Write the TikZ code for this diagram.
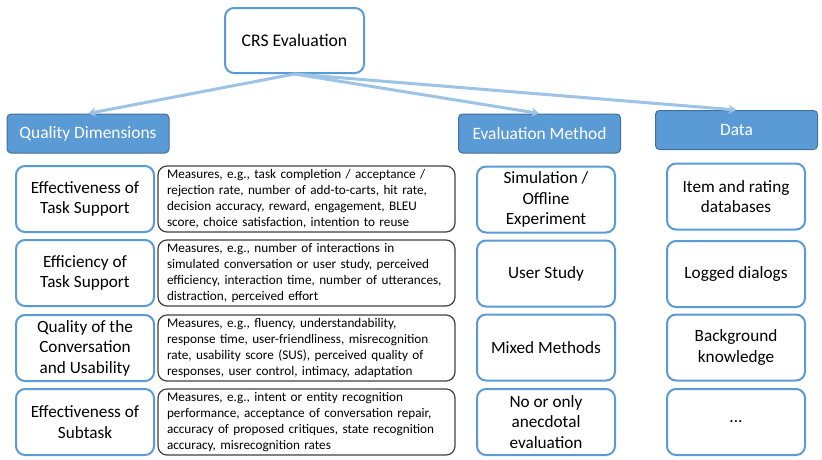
\documentclass[tikz,border=0pt]{standalone}
\usepackage{fontspec}
\setmainfont{Carlito}
\usetikzlibrary{arrows.meta}

\definecolor{accent}{RGB}{91,155,213}
\definecolor{accentdark}{RGB}{65,113,156}
\definecolor{linkblue}{RGB}{157,195,230}

\begin{document}
\begin{tikzpicture}[x=1pt, y=-1pt,
  rootbox/.style={draw=accent, line width=2pt, rounded corners=9pt, fill=white,
    minimum width=139pt, minimum height=65pt, font=\fontsize{17.7}{21}\selectfont},
  headbox/.style={draw=accentdark, line width=1pt, fill=accent, rounded corners=4pt,
    minimum width=162pt, minimum height=39pt, text=white, font=\fontsize{17.4}{20}\selectfont},
  catbox/.style={draw=accent, line width=2pt, rounded corners=9pt, fill=white,
    minimum width=138pt, minimum height=66pt, align=center, font=\fontsize{17.2}{20.5}\selectfont},
  measbox/.style={draw=black!75, line width=1.2pt, rounded corners=9pt,
    minimum width=297pt, minimum height=66pt, text width=279pt, align=left,
    font=\fontsize{13.2}{16}\selectfont},
  link/.style={-{Stealth[length=8pt, width=9pt]}, linkblue, line width=3pt}]

  % page frame
  \useasboundingbox (0,0) rectangle (822,459);

  % root
  \node[rootbox] (crs) at (294.5,40.5) {CRS Evaluation};

  % headers
  \node[headbox] (dims) at (88,133.5) {Quality Dimensions};
  \node[headbox] (method) at (539.5,133.5) {Evaluation Method};
  \node[headbox] (data) at (736.5,130) {Data};

  % arrows from the root
  \draw[link] (crs.south) -- (dims.north);
  \draw[link] (crs.south) -- (method.north);
  \draw[link] (crs.south) -- (data.north);

  % quality dimensions and their measures
  \node[catbox] (dimA) at (85,199) {Effectiveness of\\Task Support};
  \node[catbox] (dimB) at (85,273) {Efficiency of\\Task Support};
  \node[catbox] (dimC) at (85,348) {Quality of the\\Conversation\\and Usability};
  \node[catbox] (dimD) at (85,422) {Effectiveness of\\Subtask};

  \node[measbox] (measA) at (306.5,199) {Measures, e.g., task completion / acceptance /\\
    rejection rate, number of add-to-carts, hit rate,\\
    decision accuracy, reward, engagement, BLEU\\
    score, choice satisfaction, intention to reuse};
  \node[measbox] (measB) at (306.5,273) {Measures, e.g., number of interactions in\\
    simulated conversation or user study, perceived\\
    efficiency, interaction time, number of utterances,\\
    distraction, perceived effort};
  \node[measbox] (measC) at (306.5,348) {Measures, e.g., fluency, understandability,\\
    response time, user-friendliness, misrecognition\\
    rate, usability score (SUS), perceived quality of\\
    responses, user control, intimacy, adaptation};
  \node[measbox] (measD) at (306.5,422) {Measures, e.g., intent or entity recognition\\
    performance, acceptance of conversation repair,\\
    accuracy of proposed critiques, state recognition\\
    accuracy, misrecognition rates};

  % evaluation methods
  \node[catbox] (methA) at (546,199.5) {Simulation /\\Offline\\Experiment};
  \node[catbox] (methB) at (546,273.5) {User Study};
  \node[catbox] (methC) at (546,347.5) {Mixed Methods};
  \node[catbox] (methD) at (546,422) {No or only\\anecdotal\\evaluation};

  % data
  \node[catbox] (dataA) at (736,196.5) {Item and rating\\databases};
  \node[catbox] (dataB) at (736,274) {Logged dialogs};
  \node[catbox] (dataC) at (736,347.5) {Background\\knowledge};
  \node[catbox] (dataD) at (736,422) {...};
\end{tikzpicture}
\end{document}
